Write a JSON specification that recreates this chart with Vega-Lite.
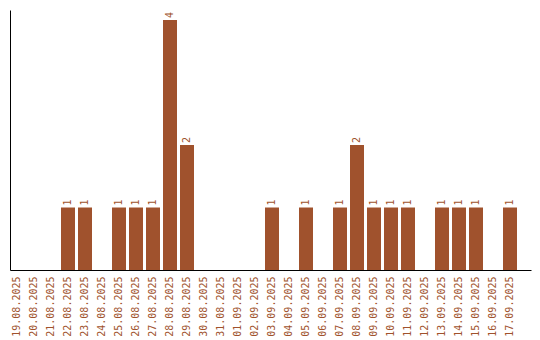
{
  "$schema": "https://vega.github.io/schema/vega-lite/v6.json",
  "autosize": "none",
  "padding": {"left": 10, "top": 10, "right": 9, "bottom": 70},
  "width": 521,
  "height": 260,
  "config": {
    "view": {"stroke": null},
    "font": "DejaVu Sans Mono",
    "axis": {"grid": false, "domainColor": "#000000", "domainWidth": 1, "ticks": false}
  },
  "data": {
    "values": [
      {"date": "19.08.2025", "count": 0},
      {"date": "20.08.2025", "count": 0},
      {"date": "21.08.2025", "count": 0},
      {"date": "22.08.2025", "count": 1},
      {"date": "23.08.2025", "count": 1},
      {"date": "24.08.2025", "count": 0},
      {"date": "25.08.2025", "count": 1},
      {"date": "26.08.2025", "count": 1},
      {"date": "27.08.2025", "count": 1},
      {"date": "28.08.2025", "count": 4},
      {"date": "29.08.2025", "count": 2},
      {"date": "30.08.2025", "count": 0},
      {"date": "31.08.2025", "count": 0},
      {"date": "01.09.2025", "count": 0},
      {"date": "02.09.2025", "count": 0},
      {"date": "03.09.2025", "count": 1},
      {"date": "04.09.2025", "count": 0},
      {"date": "05.09.2025", "count": 1},
      {"date": "06.09.2025", "count": 0},
      {"date": "07.09.2025", "count": 1},
      {"date": "08.09.2025", "count": 2},
      {"date": "09.09.2025", "count": 1},
      {"date": "10.09.2025", "count": 1},
      {"date": "11.09.2025", "count": 1},
      {"date": "12.09.2025", "count": 0},
      {"date": "13.09.2025", "count": 1},
      {"date": "14.09.2025", "count": 1},
      {"date": "15.09.2025", "count": 1},
      {"date": "16.09.2025", "count": 0},
      {"date": "17.09.2025", "count": 1}
    ]
  },
  "encoding": {
    "x": {
      "field": "date",
      "type": "nominal",
      "sort": null,
      "scale": {"paddingInner": 0.17647, "paddingOuter": 0.41176, "align": 0, "round": false},
      "axis": {"title": null, "labelAngle": -90, "labelColor": "#a0522d", "labelFont": "DejaVu Sans Mono", "labelFontSize": 10, "labelPadding": 6}
    },
    "y": {
      "field": "count",
      "type": "quantitative",
      "scale": {"domain": [0, 4.16], "nice": false},
      "axis": {"title": null, "labels": false, "ticks": false, "grid": false}
    }
  },
  "layer": [
    {"mark": {"type": "bar", "color": "#a0522d"}},
    {
      "transform": [{"filter": "datum.count > 0"}],
      "mark": {"type": "text", "angle": 270, "align": "left", "baseline": "middle", "dx": 2, "color": "#a0522d", "font": "DejaVu Sans Mono", "fontSize": 10},
      "encoding": {"text": {"field": "count", "type": "quantitative"}}
    }
  ]
}
